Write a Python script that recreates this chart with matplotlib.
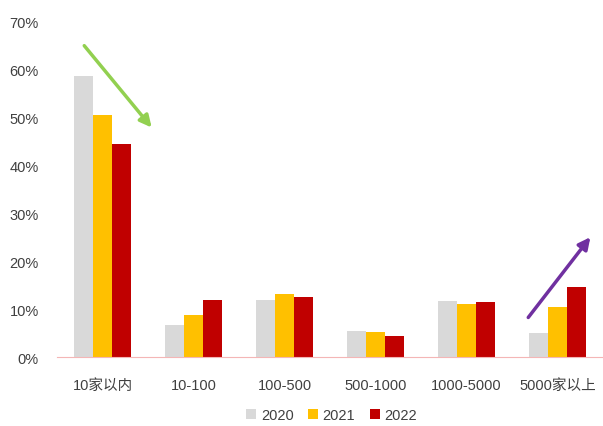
import numpy as np
import matplotlib.pyplot as plt
from matplotlib.ticker import PercentFormatter

plt.rcParams['font.family'] = ['Liberation Sans', 'Noto Sans CJK SC', 'DejaVu Sans']

categories = ['10家以内', '10-100', '100-500', '500-1000', '1000-5000', '5000家以上']
years = ['2020', '2021', '2022']
share_2020 = [58.7, 6.7, 11.9, 5.4, 11.6, 5.0]
share_2021 = [50.5, 8.8, 13.2, 5.2, 11.1, 10.4]
share_2022 = [44.5, 11.9, 12.6, 4.3, 11.4, 14.6]
colors = ['#D9D9D9', '#FFC000', '#C00000']

fig = plt.figure(figsize=(6.03, 4.27), dpi=100)
ax = fig.add_axes([57 / 603, 1 - 358 / 427, 546 / 603, 335 / 427])

x = np.arange(len(categories))
w = 0.21
for i, (vals, c, lab) in enumerate(zip([share_2020, share_2021, share_2022], colors, years)):
    ax.bar(x + (i - 1) * w, vals, width=w, color=c, label=lab)

ax.set_xlim(-0.5, len(categories) - 0.5)
ax.set_ylim(0, 70)
ax.set_yticks(np.arange(0, 71, 10))
ax.yaxis.set_major_formatter(PercentFormatter(decimals=0))
ax.set_xticks(x)
ax.set_xticklabels(categories)

for s in ['top', 'right', 'left']:
    ax.spines[s].set_visible(False)
ax.spines['bottom'].set_color('#F4B6B6')
ax.tick_params(axis='both', length=0, labelsize=10.5, colors='#404040')
ax.tick_params(axis='x', pad=15)
ax.tick_params(axis='y', pad=13)

# trend arrows
ax.annotate('', xy=(0.56, 47.5), xytext=(-0.22, 65.5),
            arrowprops=dict(arrowstyle='-|>,head_length=0.7,head_width=0.35',
                            color='#92D050', lw=2.5))
ax.annotate('', xy=(5.38, 25.5), xytext=(4.66, 7.8),
            arrowprops=dict(arrowstyle='-|>,head_length=0.7,head_width=0.35',
                            color='#7030A0', lw=2.5))

fig.legend(loc='lower center', bbox_to_anchor=(0.55, 0.0), ncol=3, frameon=False,
           fontsize=10.5, handlelength=0.7, handleheight=0.7, handletextpad=0.3,
           columnspacing=1.0, labelcolor='#404040', borderpad=0.15, borderaxespad=0.1)

fig.savefig('out.png', dpi=100)
